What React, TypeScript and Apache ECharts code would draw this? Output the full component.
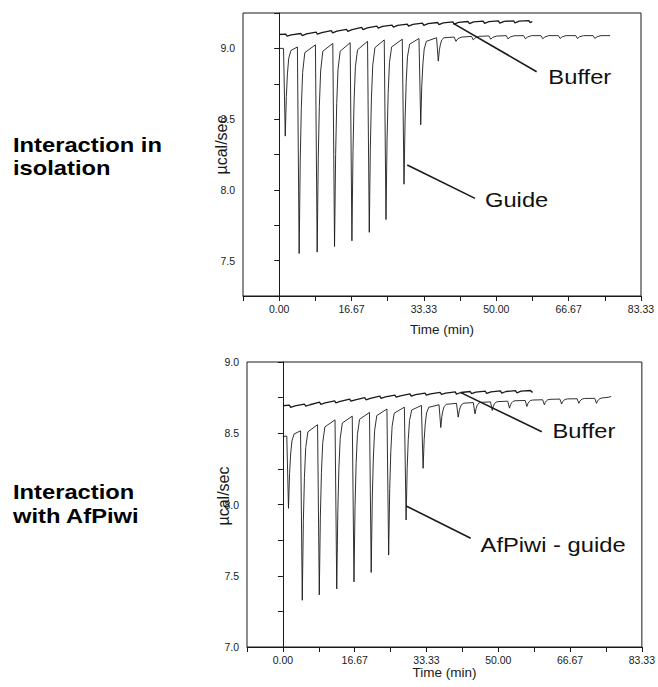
import React, { useEffect, useRef } from "react";
import * as echarts from "echarts";

// ITC thermograms: time (min) vs heat rate (µcal/sec)
const xMin = -25 / 3;
const xMax = 250 / 3;
const xStep = 25 / 3;
const yStep = 0.25;
const topYRange = [7.25, 9.25];
const bottomYRange = [7.0, 9.0];

// Guide titrated alone
const topGuide: [number, number][] = [
  [0, 9.0], [1.0, 9.0], [1.4, 8.38], [1.65, 8.66], [1.9, 8.82], [2.2, 8.93], [2.7, 8.985],
  [4.2, 9.01], [4.6, 7.55], [4.85, 8.21], [5.1, 8.58], [5.4, 8.83], [5.9, 8.97],
  [8.35, 9.025], [8.75, 7.56], [9.0, 8.22], [9.25, 8.59], [9.55, 8.84], [10.05, 8.98],
  [12.35, 9.035], [12.75, 7.6], [13.0, 8.25], [13.25, 8.61], [13.55, 8.85], [14.05, 8.98],
  [16.35, 9.04], [16.75, 7.64], [17.0, 8.27], [17.25, 8.63], [17.55, 8.87], [18.05, 8.99],
  [20.35, 9.05], [20.75, 7.7], [21.0, 8.31], [21.25, 8.65], [21.55, 8.88], [22.05, 9.005],
  [24.2, 9.06], [24.6, 7.79], [24.85, 8.36], [25.1, 8.68], [25.4, 8.9], [25.9, 9.01],
  [28.35, 9.065], [28.75, 8.04], [29.0, 8.5], [29.25, 8.76], [29.55, 8.94], [30.05, 9.03],
  [32.2, 9.07], [32.6, 8.46], [32.85, 8.74], [33.1, 8.89], [33.4, 8.995], [33.9, 9.05],
  [36.25, 9.075], [36.65, 8.91], [36.9, 8.99], [37.15, 9.03], [37.45, 9.06], [37.95, 9.075],
  [40.3, 9.08], [40.7, 9.05], [41.2, 9.07], [42.1, 9.08],
  [44.3, 9.085], [44.7, 9.06], [45.2, 9.075], [46.1, 9.085],
  [48.3, 9.088], [48.7, 9.065], [49.2, 9.078], [50.1, 9.087],
  [52.3, 9.09], [52.7, 9.067], [53.2, 9.08], [54.1, 9.089],
  [56.3, 9.09], [56.7, 9.068], [57.2, 9.08], [58.1, 9.09],
  [60.3, 9.09], [60.7, 9.068], [61.2, 9.081], [62.1, 9.09],
  [64.3, 9.09], [64.7, 9.07], [65.2, 9.082], [66.1, 9.09],
  [68.3, 9.09], [68.7, 9.07], [69.2, 9.082], [70.1, 9.09],
  [72.3, 9.09], [72.7, 9.07], [73.2, 9.082], [74.1, 9.09],
  [76.2, 9.09],
];

// Buffer blank for the guide titration
const topBuffer: [number, number][] = [
  [0, 9.098], [1.5, 9.1], [1.8, 9.086], [2.8, 9.096],
  [5.0, 9.105], [5.3, 9.09], [6.3, 9.102],
  [8.5, 9.115], [8.8, 9.1], [9.8, 9.112],
  [12.0, 9.125], [12.3, 9.11], [13.3, 9.122],
  [15.5, 9.135], [15.8, 9.12], [16.8, 9.132],
  [19.0, 9.148], [19.3, 9.133], [20.3, 9.145],
  [22.5, 9.158], [22.8, 9.143], [23.8, 9.155],
  [26.0, 9.165], [26.3, 9.15], [27.3, 9.162],
  [29.5, 9.172], [29.8, 9.157], [30.8, 9.169],
  [33.0, 9.178], [33.3, 9.163], [34.3, 9.175],
  [36.5, 9.183], [36.8, 9.168], [37.8, 9.18],
  [40.0, 9.187], [40.3, 9.172], [41.3, 9.184],
  [43.5, 9.19], [43.8, 9.175], [44.8, 9.187],
  [47.0, 9.192], [47.3, 9.177], [48.3, 9.189],
  [50.5, 9.194], [50.8, 9.179], [51.8, 9.191],
  [54.0, 9.195], [54.3, 9.18], [55.3, 9.192],
  [57.5, 9.196], [57.8, 9.182], [58.3, 9.19],
];

// Guide titrated into AfPiwi
const bottomGuide: [number, number][] = [
  [0, 8.477], [0.9, 8.48], [1.3, 7.973], [1.55, 8.218], [1.8, 8.354], [2.1, 8.446], [2.6, 8.495],
  [4.1, 8.517], [4.5, 7.328], [4.75, 7.882], [5.0, 8.19], [5.3, 8.4], [5.8, 8.51],
  [8.05, 8.56], [8.45, 7.366], [8.7, 7.919], [8.95, 8.226], [9.25, 8.434], [9.75, 8.545],
  [12.1, 8.594], [12.5, 7.408], [12.75, 7.953], [13.0, 8.256], [13.3, 8.462], [13.8, 8.572],
  [16.1, 8.62], [16.5, 7.457], [16.75, 7.992], [17.0, 8.289], [17.3, 8.491], [17.8, 8.598],
  [20.1, 8.646], [20.5, 7.523], [20.75, 8.039], [21.0, 8.326], [21.3, 8.521], [21.8, 8.624],
  [24.15, 8.67], [24.55, 7.645], [24.8, 8.112], [25.05, 8.372], [25.35, 8.548], [25.85, 8.641],
  [28.2, 8.683], [28.6, 7.891], [28.85, 8.253], [29.1, 8.454], [29.4, 8.59], [29.9, 8.663],
  [32.15, 8.695], [32.55, 8.254], [32.8, 8.455], [33.05, 8.566], [33.35, 8.642], [33.85, 8.682],
  [36.25, 8.7], [36.65, 8.54], [36.9, 8.617], [37.15, 8.659], [37.45, 8.688], [37.95, 8.703],
  [40.3, 8.71], [40.7, 8.613], [40.95, 8.659], [41.2, 8.684], [41.5, 8.702], [42.0, 8.711],
  [44.2, 8.715], [44.6, 8.636], [44.85, 8.674], [45.1, 8.695], [45.4, 8.709], [45.9, 8.717],
  [48.2, 8.72], [48.6, 8.66], [48.85, 8.689], [49.1, 8.706], [49.4, 8.717], [49.9, 8.722],
  [52.2, 8.725], [52.6, 8.676], [52.85, 8.7], [53.1, 8.714], [53.4, 8.723], [53.9, 8.728],
  [56.25, 8.73], [56.65, 8.688], [56.9, 8.709], [57.15, 8.721], [57.45, 8.729], [57.95, 8.733],
  [60.3, 8.735], [60.7, 8.7], [60.95, 8.718], [61.2, 8.728], [61.5, 8.735], [62.0, 8.738],
  [64.3, 8.74], [64.7, 8.705], [64.95, 8.722], [65.2, 8.731], [65.5, 8.737], [66.0, 8.741],
  [68.3, 8.742], [68.7, 8.71], [68.95, 8.725], [69.2, 8.734], [69.5, 8.74], [70.0, 8.744],
  [72.4, 8.745], [72.8, 8.71], [73.05, 8.726], [73.3, 8.736], [73.6, 8.743], [74.1, 8.748],
  [75.5, 8.752], [76.2, 8.758],
];

// Buffer blank for the AfPiwi titration
const bottomBuffer: [number, number][] = [
  [0, 8.693], [1.5, 8.697], [1.8, 8.682], [2.8, 8.692],
  [5.0, 8.705], [5.3, 8.69], [6.3, 8.7],
  [8.5, 8.718], [8.8, 8.703], [9.8, 8.713],
  [12.0, 8.728], [12.3, 8.713], [13.3, 8.723],
  [15.5, 8.74], [15.8, 8.725], [16.8, 8.735],
  [19.0, 8.75], [19.3, 8.735], [20.3, 8.745],
  [22.5, 8.76], [22.8, 8.745], [23.8, 8.755],
  [26.0, 8.768], [26.3, 8.753], [27.3, 8.763],
  [29.5, 8.776], [29.8, 8.761], [30.8, 8.771],
  [33.0, 8.782], [33.3, 8.767], [34.3, 8.777],
  [36.5, 8.787], [36.8, 8.772], [37.8, 8.782],
  [40.0, 8.79], [40.3, 8.775], [41.3, 8.786],
  [43.5, 8.793], [43.8, 8.778], [44.8, 8.789],
  [47.0, 8.795], [47.3, 8.78], [48.3, 8.791],
  [50.5, 8.797], [50.8, 8.782], [51.8, 8.793],
  [54.0, 8.799], [54.3, 8.784], [55.3, 8.795],
  [57.5, 8.8], [57.8, 8.788], [58.0, 8.792],
];

// Callouts: text, pointer start on the trace, pointer end, text anchor (data coords)
type Note = { text: string; from: number[]; to: number[]; at: number[] };
const topNotes: Note[] = [
  { text: "Buffer", from: [40.1, 9.177], to: [59.3, 8.835], at: [62.0, 8.796] },
  { text: "Guide", from: [29.5, 8.176], to: [45.1, 7.94], at: [47.4, 7.928] },
];
const bottomNotes: Note[] = [
  { text: "Buffer", from: [41.3, 8.785], to: [60.1, 8.511], at: [62.6, 8.517] },
  { text: "AfPiwi - guide", from: [28.6, 7.99], to: [43.6, 7.763], at: [45.9, 7.716] },
];

const panelTitles = ["Interaction in\nisolation", "Interaction\nwith AfPiwi"];
const yAxisTitle = "µcal/sec";
const xAxisTitle = "Time (min)";

const FONT = '"Liberation Sans", Arial, Helvetica, sans-serif';
const INK = "#1a1a1a";

function makeX(gridIndex: number, nameGap: number) {
  return {
    type: "value",
    gridIndex,
    min: xMin,
    max: xMax,
    interval: xStep,
    name: xAxisTitle,
    nameLocation: "middle",
    nameGap,
    nameTextStyle: { fontFamily: FONT, fontSize: 13.5, color: INK },
    axisLine: { show: true, lineStyle: { color: INK, width: 1 } },
    axisTick: { show: true, inside: false, length: 5, lineStyle: { color: INK } },
    axisLabel: {
      fontFamily: FONT,
      fontSize: 10.5,
      color: INK,
      margin: 7,
      formatter: (v: number) => {
        const k = Math.round(v / xStep);
        return v > -0.001 && k % 2 === 0 ? v.toFixed(2) : "";
      },
    },
    splitLine: { show: false },
  };
}

function makeY(gridIndex: number, range: number[]) {
  return {
    type: "value",
    gridIndex,
    min: range[0],
    max: range[1],
    interval: yStep,
    axisLine: { show: true, lineStyle: { color: INK, width: 1 } },
    axisTick: { show: true, inside: false, length: 5, lineStyle: { color: INK } },
    axisLabel: {
      fontFamily: FONT,
      fontSize: 10.5,
      color: INK,
      margin: 8,
      formatter: (v: number) =>
        Math.abs(v * 2 - Math.round(v * 2)) < 1e-6 ? v.toFixed(1) : "",
    },
    splitLine: { show: false },
  };
}

function trace(name: string, data: [number, number][], axis: number, width: number) {
  return {
    type: "line",
    name,
    xAxisIndex: axis,
    yAxisIndex: axis,
    data,
    showSymbol: false,
    symbol: "none",
    smooth: false,
    lineStyle: { color: INK, width },
    silent: true,
  };
}

export default function App() {
  const ref = useRef<HTMLDivElement>(null);

  useEffect(() => {
    if (!ref.current) return;
    const chart = echarts.init(ref.current, undefined, { renderer: "svg" });
    chart.setOption({
      animation: false,
      backgroundColor: "#ffffff",
      grid: [
        { left: 243, top: 13, width: 398, height: 283, show: true, borderColor: INK, borderWidth: 1 },
        { left: 247, top: 362, width: 397, height: 285, show: true, borderColor: INK, borderWidth: 1 },
      ],
      xAxis: [makeX(0, 26), makeX(1, 18)],
      yAxis: [makeY(0, topYRange), makeY(1, bottomYRange)],
      series: [
        trace("Guide", topGuide, 0, 0.9),
        trace("Buffer", topBuffer, 0, 1.3),
        trace("AfPiwi - guide", bottomGuide, 1, 0.9),
        trace("Buffer", bottomBuffer, 1, 1.3),
      ],
    });

    const px = (axis: number, p: number[]) =>
      chart.convertToPixel({ xAxisIndex: axis, yAxisIndex: axis } as any, p) as number[];

    const graphics: any[] = [];
    [topNotes, bottomNotes].forEach((notes, axis) => {
      notes.forEach((n) => {
        const a = px(axis, n.from);
        const b = px(axis, n.to);
        const c = px(axis, n.at);
        graphics.push({
          type: "line",
          shape: { x1: a[0], y1: a[1], x2: b[0], y2: b[1] },
          style: { stroke: INK, lineWidth: 1.6 },
          silent: true,
        });
        graphics.push({
          type: "text",
          x: c[0],
          y: c[1],
          scaleX: 1.13,
          style: {
            text: n.text,
            fontFamily: FONT,
            fontSize: 21,
            fill: "#111",
            align: "left",
            verticalAlign: "middle",
          },
          silent: true,
        });
      });
    });

    // y-axis titles, rotated to read bottom-to-top
    [
      [221.7, 145],
      [223, 496],
    ].forEach(([x, y]) => {
      graphics.push({
        type: "text",
        x,
        y,
        rotation: Math.PI / 2,
        style: {
          text: yAxisTitle,
          fontFamily: FONT,
          fontSize: 16,
          fill: INK,
          align: "center",
          verticalAlign: "middle",
        },
        silent: true,
      });
    });

    // Panel titles on the left
    [156.7, 504].forEach((y, i) => {
      graphics.push({
        type: "text",
        x: 13,
        y,
        scaleX: 1.13,
        style: {
          text: panelTitles[i],
          fontFamily: FONT,
          fontSize: 21,
          fontWeight: "bold",
          lineHeight: 23.3,
          fill: "#000",
          align: "left",
          verticalAlign: "middle",
        },
        silent: true,
      });
    });

    chart.setOption({ graphic: graphics });
    return () => chart.dispose();
  }, []);

  return (
    <div
      ref={ref}
      style={{ position: "fixed", left: 0, top: 0, width: 658, height: 687, background: "#fff" }}
    />
  );
}
